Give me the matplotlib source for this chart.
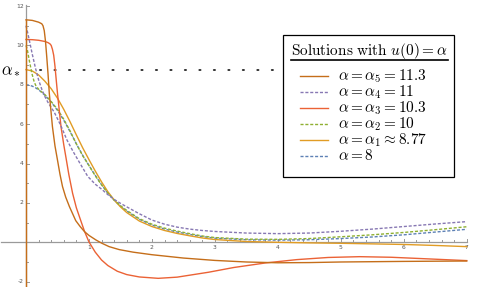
import matplotlib
matplotlib.use("Agg")
import matplotlib.pyplot as plt
from matplotlib.patches import Rectangle
from matplotlib.lines import Line2D
import numpy as np

plt.rcParams['mathtext.fontset'] = 'cm'

# ---------------- data ----------------
alpha_star = 8.77

# alpha = 8
x_a8 = [0, 0.05, 0.1, 0.15, 0.21, 0.3, 0.4, 0.5, 0.6, 0.7, 0.8, 0.9, 1.0, 1.1, 1.2, 1.3, 1.4, 1.5, 1.6, 1.8, 2.0, 2.2, 2.4, 2.6, 2.8, 3.0, 3.5, 4.0, 4.5, 5.0, 5.5, 6.0, 6.5, 7.0]
y_a8 = [8.0, 7.98, 7.93, 7.85, 7.72, 7.47, 7.12, 6.7, 6.2, 5.62, 5.0, 4.42, 3.9, 3.4, 2.93, 2.5, 2.14, 1.84, 1.59, 1.17, 0.88, 0.67, 0.52, 0.4, 0.29, 0.21, 0.13, 0.11, 0.13, 0.19, 0.27, 0.38, 0.52, 0.66]

# alpha = alpha_1 ~ 8.77
x_a1 = [0, 0.1, 0.2, 0.3, 0.4, 0.5, 0.6, 0.7, 0.8, 0.9, 1.0, 1.1, 1.2, 1.3, 1.4, 1.5, 1.6, 1.8, 2.0, 2.2, 2.4, 2.6, 2.8, 3.0, 3.5, 4.0, 4.5, 5.0, 5.5, 6.0, 6.5, 7.0]
y_a1 = [8.77, 8.7, 8.5, 8.18, 7.8, 7.32, 6.75, 6.12, 5.45, 4.8, 4.2, 3.62, 3.07, 2.57, 2.15, 1.8, 1.51, 1.08, 0.8, 0.6, 0.45, 0.33, 0.22, 0.14, 0.04, 0.0, -0.03, -0.05, -0.08, -0.11, -0.16, -0.22]

# alpha = alpha_2 = 10
x_a2 = [0, 0.02, 0.04, 0.06, 0.08, 0.1, 0.13, 0.16, 0.21, 0.3, 0.4, 0.5, 0.6, 0.7, 0.8, 0.9, 1.0, 1.1, 1.2, 1.3, 1.4, 1.5, 1.6, 1.8, 2.0, 2.2, 2.4, 2.6, 2.8, 3.0, 3.5, 4.0, 4.5, 5.0, 5.5, 6.0, 6.5, 7.0]
y_a2 = [10.0, 9.8, 9.45, 9.1, 8.8, 8.5, 8.15, 7.93, 7.74, 7.5, 7.15, 6.75, 6.25, 5.65, 5.0, 4.4, 3.9, 3.38, 2.92, 2.5, 2.15, 1.86, 1.62, 1.2, 0.92, 0.72, 0.57, 0.44, 0.32, 0.24, 0.16, 0.15, 0.19, 0.28, 0.38, 0.5, 0.64, 0.79]

# alpha = alpha_3 = 10.3
x_a3 = [0, 0.1, 0.2, 0.3, 0.35, 0.38, 0.4, 0.42, 0.44, 0.46, 0.48, 0.5, 0.53, 0.556, 0.6, 0.635, 0.68, 0.74, 0.8, 0.87, 0.93, 1.0, 1.1, 1.2, 1.3, 1.45, 1.6, 1.8, 2.1, 2.4, 2.9, 3.3, 3.8, 4.3, 4.8, 5.3, 5.8, 6.3, 7.0]
y_a3 = [10.3, 10.29, 10.26, 10.2, 10.14, 10.08, 10.0, 9.8, 9.5, 8.95, 8.25, 7.57, 6.65, 5.87, 4.95, 4.3, 3.45, 2.49, 1.75, 1.1, 0.55, 0.02, -0.5, -0.9, -1.18, -1.47, -1.64, -1.76, -1.83, -1.77, -1.52, -1.28, -1.05, -0.88, -0.77, -0.73, -0.76, -0.83, -0.93]

# alpha = alpha_4 = 11
x_a4 = [0, 0.03, 0.06, 0.1, 0.15, 0.2, 0.25, 0.3, 0.35, 0.45, 0.55, 0.65, 0.75, 0.85, 0.98, 1.1, 1.2, 1.3, 1.4, 1.5, 1.6, 1.8, 2.0, 2.2, 2.4, 2.6, 2.8, 3.0, 3.5, 4.0, 4.5, 5.0, 5.5, 6.0, 6.5, 7.0]
y_a4 = [11.0, 10.6, 10.15, 9.55, 8.85, 8.25, 7.78, 7.4, 7.1, 6.6, 5.95, 5.2, 4.6, 4.05, 3.35, 2.95, 2.7, 2.42, 2.18, 1.98, 1.8, 1.45, 1.13, 0.92, 0.77, 0.67, 0.6, 0.55, 0.47, 0.44, 0.47, 0.56, 0.67, 0.8, 0.93, 1.05]

# alpha = alpha_5 = 11.3
x_a5 = [0, 0.1, 0.2, 0.25, 0.27, 0.29, 0.31, 0.33, 0.35, 0.37, 0.42, 0.46, 0.5, 0.54, 0.58, 0.63, 0.69, 0.79, 0.86, 0.93, 1.0, 1.11, 1.2, 1.32, 1.48, 1.7, 2.0, 2.5, 3.0, 3.5, 4.0, 4.5, 5.0, 6.0, 7.0]
y_a5 = [11.3, 11.27, 11.18, 11.1, 11.0, 10.75, 10.2, 9.4, 8.55, 7.57, 5.87, 4.9, 4.18, 3.45, 2.83, 2.3, 1.81, 1.1, 0.8, 0.54, 0.35, 0.12, -0.04, -0.22, -0.37, -0.5, -0.63, -0.8, -0.92, -1.0, -1.04, -1.03, -1.0, -0.97, -0.95]

legend_title = r"$\mathrm{Solutions\ with\ }u(0)=\alpha$"
legend_labels = [r"$\alpha=\alpha_5=11.3$", r"$\alpha=\alpha_4=11$", r"$\alpha=\alpha_3=10.3$",
                 r"$\alpha=\alpha_2=10$", r"$\alpha=\alpha_1\approx 8.77$", r"$\alpha=8$"]
x_ticks = [1, 2, 3, 4, 5, 6, 7]
y_ticks = [-2, 2, 4, 6, 8, 10, 12]

# ---------------- styling ----------------
C_BLUE = "#5E81B5"
C_ORANGE = "#E19C24"
C_GREEN = "#8FB032"
C_RED = "#EB6235"
C_PURPLE = "#8778B3"
C_BROWN = "#C56E1A"
DASH = (0, (2.2, 1.3))

W, H = 481, 287
fig = plt.figure(figsize=(W / 100, H / 100), dpi=100)
ax = fig.add_axes([0, 0, 1, 1])
ax.set_xlim(-26 / 62.96, (W - 26) / 62.96)
ax.set_ylim(-(H - 242.3) / 19.69, 242.3 / 19.69)
ax.axis('off')

axis_col = "#9a9a9a"
lab_col = "#555555"
# axes lines
ax.plot([-0.4, 7.0], [0, 0], color=axis_col, lw=0.9, zorder=1)
ax.plot([0, 0], [-2.3, 12.05], color=axis_col, lw=0.9, zorder=1)
# ticks
for t in np.arange(0.2, 7.01, 0.2):
    major = abs(t - round(t)) < 1e-6
    ax.plot([t, t], [0, 0.17 if major else 0.1], color=axis_col, lw=0.7, zorder=1)
for t in x_ticks:
    ax.text(t, -0.13, str(t), ha='center', va='top', fontsize=4.3, color=lab_col)
for t in range(-2, 13):
    major = t % 2 == 0
    ax.plot([0, 0.05 if major else 0.03], [t, t], color=axis_col, lw=0.7, zorder=1)
for t in y_ticks:
    ax.text(-0.035, t, str(t), ha='right', va='center', fontsize=4.3, color=lab_col)

# dotted alpha_* line
ax.plot([0.222, 4.12], [alpha_star, alpha_star], color='#333333', lw=1.4,
        linestyle=(0, (0.6, 6.85)), dash_capstyle='round', zorder=2)
ax.text(-0.075, alpha_star, r"$\alpha_*$", ha='right', va='center', fontsize=12)

# curves
lw = 1.0
ax.plot(x_a8, y_a8, color=C_BLUE, lw=lw, linestyle=DASH, zorder=3)
ax.plot(x_a1, y_a1, color=C_ORANGE, lw=lw, zorder=3)
ax.plot(x_a2, y_a2, color=C_GREEN, lw=lw, linestyle=DASH, zorder=3)
ax.plot(x_a3, y_a3, color=C_RED, lw=lw, zorder=3)
ax.plot(x_a4, y_a4, color=C_PURPLE, lw=lw, linestyle=DASH, zorder=3)
ax.plot(x_a5, y_a5, color=C_BROWN, lw=lw, zorder=3)
ax.plot([0, 0], [-2.3, y_a5[0]], color=C_BROWN, lw=lw, zorder=3)

# ---------------- legend (drawn by hand, in pixel coords) ----------------
def fx(p):
    return p / W

def fy(p):
    return 1 - p / H

fig.patches.append(Rectangle((fx(283.5), fy(176.5)), fx(454) - fx(283.5), fy(35) - fy(176.5),
                             transform=fig.transFigure, facecolor='white', edgecolor='black', lw=0.9,
                             zorder=10))
fig.text(fx(369.5), fy(55), legend_title, ha='center', va='baseline', fontsize=11, zorder=11)
fig.lines.append(Line2D([fx(291), fx(448)], [fy(59.5), fy(59.5)], transform=fig.transFigure,
                        color='black', lw=1.2, zorder=11))
styles = [(C_BROWN, '-'), (C_PURPLE, DASH), (C_RED, '-'), (C_GREEN, DASH), (C_ORANGE, '-'), (C_BLUE, DASH)]
for i, (lab, (c, ls)) in enumerate(zip(legend_labels, styles)):
    yc = 76 + 15.9 * i
    fig.lines.append(Line2D([fx(300), fx(328)], [fy(yc), fy(yc)], transform=fig.transFigure,
                            color=c, lw=1.0, linestyle=ls, zorder=11))
    fig.text(fx(338), fy(yc + 4.5), lab, ha='left', va='baseline', fontsize=11, zorder=11)

fig.savefig("out.png", dpi=100)
